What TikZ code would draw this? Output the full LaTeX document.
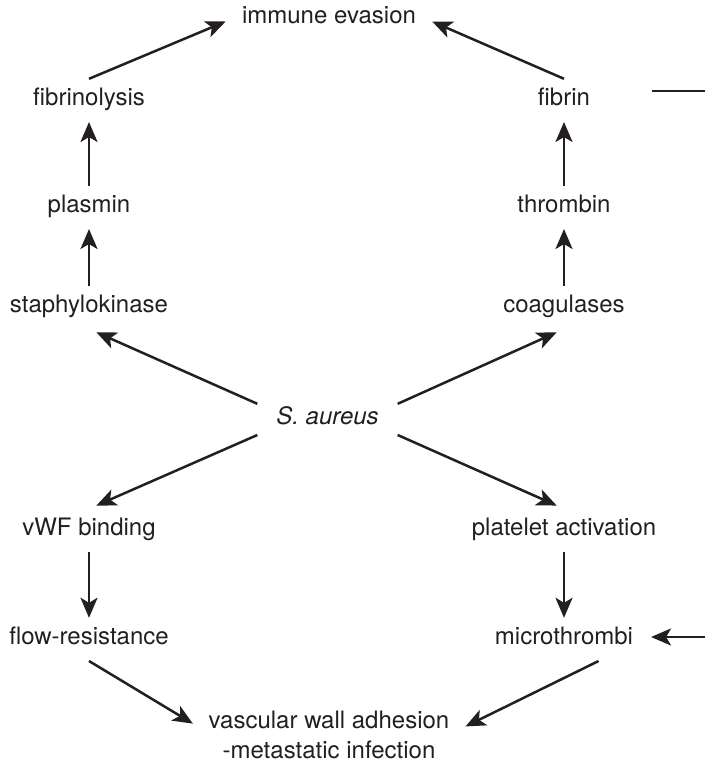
\documentclass[tikz,border=0pt]{standalone}
\usepackage{fontspec}
\setmainfont{TeX Gyre Heros}
\usetikzlibrary{arrows.meta}

\begin{document}
\begin{tikzpicture}[x=0.5pt, y=-0.5pt,
    txt/.style={font=\fontsize{12}{15}\selectfont, text=lineColour, inner sep=0pt, outer sep=4.5pt,
        text height=8.6pt, text depth=4pt, anchor=base},
    txtblock/.style={font=\fontsize{12}{15}\selectfont, text=lineColour, inner sep=0pt, outer sep=4.5pt, align=center},
    arr/.style={draw=lineColour, line width=1.25pt, -{Stealth[length=10pt, width=8.5pt, inset=2.5pt]}},
    diag/.style={arr, shorten >=4pt}]
    % Define colours and columns
    \definecolor{lineColour}{HTML}{231F20}
    \def\leftCol{89}
    \def\rightCol{564}

    \useasboundingbox (0,0) rectangle (705,761);

    % Top of the picture
    \node[txt] (immune) at (329,23) {immune evasion};
    \node[txt] (fibrinolysis) at (\leftCol,105) {fibrinolysis};
    \node[txt] (fibrin) at (\rightCol,105) {fibrin};
    \node[txt] (plasmin) at (\leftCol,212) {plasmin};
    \node[txt] (thrombin) at (\rightCol,212) {thrombin};
    \node[txt] (staph) at (\leftCol,312) {staphylokinase};
    \node[txt] (coag) at (\rightCol,312) {coagulases};

    % The bacterium in the middle
    \node[txt, outer xsep=9.5pt, outer ysep=1.5pt] (saureus) at (327.5,424) {\itshape S. aureus};

    % Bottom of the picture
    \node[txt] (vwf) at (\leftCol,535) {vWF binding};
    \node[txt] (platelet) at (\rightCol,535) {platelet activation};
    \node[txt] (flow) at (\leftCol,644) {flow-resistance};
    \node[txt] (micro) at (\rightCol,644) {microthrombi};
    \node[txtblock] (vascular) at (329,734.5) {vascular wall adhesion\\-metastatic infection};

    % Arrows from S. aureus
    \draw[diag] (saureus.north west) -- (staph.south);
    \draw[diag] (saureus.north east) -- (coag.south);
    \draw[diag] (saureus.south west) -- (vwf.north);
    \draw[diag] (saureus.south east) -- (platelet.north);

    % Upper chains
    \draw[arr] (staph) -- (plasmin);
    \draw[arr] (plasmin) -- (fibrinolysis);
    \draw[arr] (coag) -- (thrombin);
    \draw[arr] (thrombin) -- (fibrin);
    \draw[diag] (fibrinolysis.north) -- (immune.west);
    \draw[diag] (fibrin.north) -- (immune.east);

    % Lower chains
    \draw[arr] (vwf) -- (flow);
    \draw[arr] (platelet) -- (micro);
    \draw[diag] (flow.south) -- (vascular.177);
    \draw[diag] (micro.-32) -- (vascular.2);

    % Lines running off the right edge
    \coordinate (stubStart) at (652,91);
    \coordinate (stubEnd) at (705,91);
    \coordinate (edgeBot) at (705,637);
    \draw[draw=lineColour, line width=1.25pt] (stubStart) -- (stubEnd);
    \draw[arr, shorten >=4.5pt] (edgeBot) -- (edgeBot -| micro.east);

\end{tikzpicture}
\end{document}
